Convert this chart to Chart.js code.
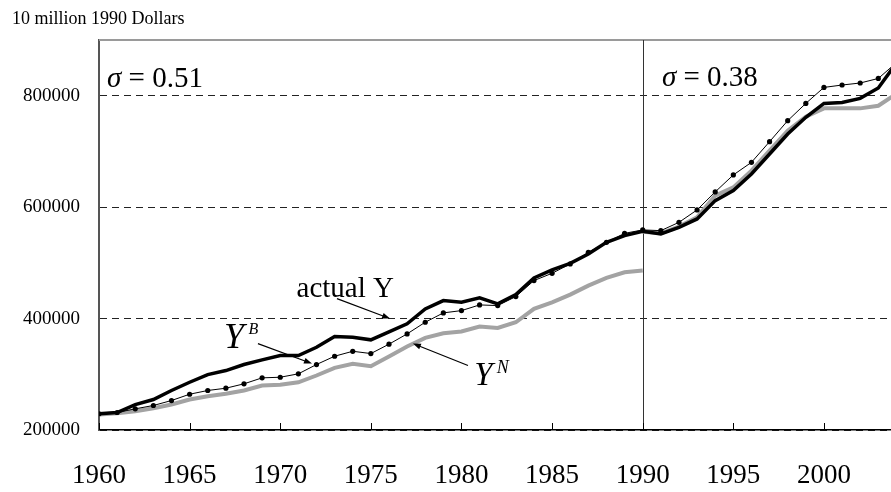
<!DOCTYPE html>
<html>
<head>
<meta charset="utf-8">
<script src="https://cdn.jsdelivr.net/npm/chart.js@4.4.1/dist/chart.umd.min.js"></script>
<style>
  html, body { margin: 0; padding: 0; background: #fff; }
  #wrap { position: relative; width: 891px; height: 492px; overflow: hidden; }
</style>
</head>
<body>
<div id="wrap"><canvas id="gdpChart" width="891" height="492"></canvas></div>
<script>
// years on the x axis
const YEARS = [1960, 1961, 1962, 1963, 1964, 1965, 1966, 1967, 1968, 1969,
               1970, 1971, 1972, 1973, 1974, 1975, 1976, 1977, 1978, 1979,
               1980, 1981, 1982, 1983, 1984, 1985, 1986, 1987, 1988, 1989,
               1990, 1991, 1992, 1993, 1994, 1995, 1996, 1997, 1998, 1999,
               2000, 2001, 2002, 2003, 2004];

// actual Y (thick black)
const ACTUAL_Y = [229000, 231400, 245700, 254700, 270900, 285700, 299500, 306700, 317500, 325900,
                  333600, 333600, 348500, 367700, 366500, 361800, 376000, 390500, 417400, 432300,
                  429200, 437100, 426400, 443000, 473000, 487300, 499200, 516000, 536900, 548900,
                  556600, 552000, 563800, 578800, 611700, 629600, 659500, 695400, 731300, 761200,
                  786200, 788000, 795200, 813800, 858500];

// Y^B (thin line with dots)
const Y_B = [229000, 231400, 238000, 244000, 252900, 264200, 270900, 275000, 282900, 293600,
             294700, 300800, 317500, 332400, 341300, 337200, 354000, 372500, 393400, 410200,
             414300, 424500, 423300, 439500, 468200, 481300, 498100, 518900, 536900, 553000,
             559100, 557800, 572700, 595000, 627300, 657800, 680400, 717500, 755200, 786200,
             814900, 819200, 822800, 831000, 859400];

// Y^N (grey), 1960-1990 and the new run 1990-2004
const YN_YEARS_1 = [1960, 1961, 1962, 1963, 1964, 1965, 1966, 1967, 1968, 1969,
                    1970, 1971, 1972, 1973, 1974, 1975, 1976, 1977, 1978, 1979,
                    1980, 1981, 1982, 1983, 1984, 1985, 1986, 1987, 1988, 1989, 1990];
const Y_N_1 = [227800, 230100, 233700, 239100, 245700, 254700, 260600, 264900, 270900, 279800,
               281100, 285700, 297800, 311600, 318700, 314400, 332000, 349800, 365400, 373600,
               376700, 385600, 383300, 393400, 417400, 429200, 443000, 459200, 473000, 483000, 486100];
const YN_YEARS_2 = [1990, 1991, 1992, 1993, 1994, 1995, 1996, 1997, 1998, 1999,
                    2000, 2001, 2002, 2003, 2004];
const Y_N_2 = [556000, 553000, 565000, 581800, 620600, 635500, 665400, 701300, 737200, 762400,
               777300, 777300, 777300, 782000, 803600];

const X_TICKS = [1960, 1965, 1970, 1975, 1980, 1985, 1990, 1995, 2000];
const Y_TICKS = [200000, 400000, 600000, 800000];

const SERIF = "'Liberation Serif', 'Times New Roman', serif";

const toPoints = (xs, ys) => xs.map((x, i) => ({ x: x, y: ys[i] }));

/**
 * 附加繪製：外框、1990 分隔線、向內刻度、標註文字與箭頭
 */
const extrasPlugin = {
    id: 'extras',
    beforeDatasetsDraw(chart) {
        const { ctx, chartArea: a, scales: { x } } = chart;
        ctx.save();
        // top frame line
        ctx.strokeStyle = '#9a9a9a';
        ctx.lineWidth = 2;
        ctx.beginPath();
        ctx.moveTo(a.left, a.top);
        ctx.lineTo(a.right, a.top);
        ctx.stroke();
        // break at 1990
        const x90 = Math.round(x.getPixelForValue(1990)) + 0.5;
        ctx.strokeStyle = '#333';
        ctx.lineWidth = 1;
        ctx.beginPath();
        ctx.moveTo(x90, a.top);
        ctx.lineTo(x90, a.bottom);
        ctx.stroke();
        // inward ticks
        ctx.strokeStyle = '#000';
        X_TICKS.forEach(v => {
            const px = Math.round(x.getPixelForValue(v)) + 0.5;
            ctx.beginPath();
            ctx.moveTo(px, a.bottom);
            ctx.lineTo(px, a.bottom - 7);
            ctx.stroke();
        });
        ctx.restore();
    },
    afterDatasetsDraw(chart) {
        const { ctx, scales: { x, y } } = chart;
        const X = v => x.getPixelForValue(v);
        const Y = v => y.getPixelForValue(v);
        ctx.save();
        ctx.fillStyle = '#000';
        ctx.strokeStyle = '#000';
        ctx.textBaseline = 'alphabetic';

        // sigma labels
        const sigma = (yr, val, txt) => {
            ctx.font = 'italic 29px ' + SERIF;
            ctx.fillText('σ', X(yr), Y(val));
            const w = ctx.measureText('σ').width;
            ctx.font = '29px ' + SERIF;
            ctx.fillText(' = ' + txt, X(yr) + w, Y(val));
        };
        sigma(1960.44, 816000, '0.51');
        sigma(1991.06, 818000, '0.38');

        // actual Y
        ctx.font = '29px ' + SERIF;
        ctx.fillText('actual Y', X(1970.9), Y(438000));

        // Y^B
        ctx.font = 'italic 36px ' + SERIF;
        ctx.fillText('Y', X(1966.9), Y(348000));
        ctx.font = 'italic 16px ' + SERIF;
        ctx.fillText('B', X(1968.25), Y(372000));

        // Y^N
        ctx.font = 'italic 33px ' + SERIF;
        ctx.fillText('Y', X(1980.7), Y(280000));
        ctx.font = 'italic 18px ' + SERIF;
        ctx.fillText('N', X(1981.95), Y(302000));

        // arrows
        const arrow = (x0, y0, x1, y1) => {
            const sx = X(x0), sy = Y(y0), ex = X(x1), ey = Y(y1);
            const ang = Math.atan2(ey - sy, ex - sx);
            ctx.lineWidth = 1.2;
            ctx.beginPath();
            ctx.moveTo(sx, sy);
            ctx.lineTo(ex - 6 * Math.cos(ang), ey - 6 * Math.sin(ang));
            ctx.stroke();
            ctx.beginPath();
            ctx.moveTo(ex, ey);
            ctx.lineTo(ex - 8 * Math.cos(ang) + 3 * Math.sin(ang), ey - 8 * Math.sin(ang) - 3 * Math.cos(ang));
            ctx.lineTo(ex - 8 * Math.cos(ang) - 3 * Math.sin(ang), ey - 8 * Math.sin(ang) + 3 * Math.cos(ang));
            ctx.closePath();
            ctx.fill();
        };
        arrow(1973.13, 435900, 1976.06, 400000);
        arrow(1968.77, 355100, 1971.75, 319300);
        arrow(1980.36, 315700, 1977.32, 355100);

        // units caption
        ctx.font = '18px ' + SERIF;
        ctx.fillText('10 million 1990 Dollars', 12, 24);
        ctx.restore();
    }
};

const ctx = document.getElementById('gdpChart').getContext('2d');
new Chart(ctx, {
    type: 'line',
    data: {
        datasets: [
            {
                label: 'Y^B',
                data: toPoints(YEARS, Y_B),
                borderColor: '#000',
                borderWidth: 1,
                pointRadius: 2.6,
                pointBackgroundColor: '#000',
                pointBorderWidth: 0,
                tension: 0,
                order: 0
            },
            {
                label: 'actual Y',
                data: toPoints(YEARS, ACTUAL_Y),
                borderColor: '#000',
                borderWidth: 3.5,
                pointRadius: 0,
                tension: 0,
                order: 1
            },
            {
                label: 'Y^N',
                data: toPoints(YN_YEARS_1, Y_N_1),
                borderColor: '#a3a3a3',
                borderWidth: 4,
                pointRadius: 0,
                tension: 0,
                order: 2
            },
            {
                label: 'Y^N (1990-)',
                data: toPoints(YN_YEARS_2, Y_N_2),
                borderColor: '#a3a3a3',
                borderWidth: 4,
                pointRadius: 0,
                tension: 0,
                order: 2
            }
        ]
    },
    options: {
        responsive: false,
        animation: false,
        layout: { autoPadding: false, padding: { top: 40, left: 0, right: 0, bottom: 0 } },
        plugins: {
            legend: { display: false },
            tooltip: { enabled: false },
            title: { display: false }
        },
        scales: {
            x: {
                type: 'linear',
                min: 1960,
                max: 2003.7,
                afterBuildTicks: scale => { scale.ticks = X_TICKS.map(v => ({ value: v })); },
                afterFit: scale => {
                    scale.height = 62;
                    scale.paddingLeft = 0;
                    scale.paddingRight = 0;
                },
                grid: { display: false, drawTicks: false },
                border: { display: true, color: '#000', width: 1.5 },
                ticks: {
                    autoSkip: false,
                    maxRotation: 0,
                    padding: 30,
                    color: '#000',
                    font: { family: SERIF, size: 27 },
                    callback: v => String(v)
                }
            },
            y: {
                min: 200000,
                max: 900000,
                afterBuildTicks: scale => { scale.ticks = Y_TICKS.map(v => ({ value: v })); },
                afterFit: scale => {
                    scale.width = 99;
                    scale.paddingTop = 0;
                    scale.paddingBottom = 0;
                },
                grid: { color: '#222', lineWidth: 1, drawTicks: false },
                border: { display: true, color: '#555', width: 2, dash: [7, 5] },
                ticks: {
                    padding: 19,
                    color: '#000',
                    font: { family: SERIF, size: 19 },
                    callback: v => String(v)
                }
            }
        }
    },
    plugins: [extrasPlugin]
});
</script>
</body>
</html>
